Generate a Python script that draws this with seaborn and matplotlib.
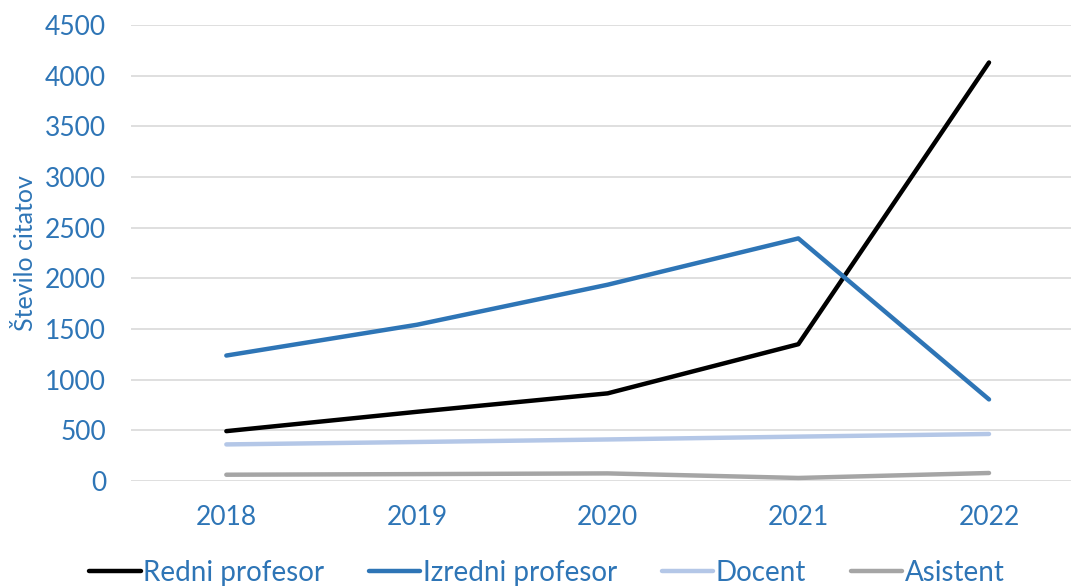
import pandas as pd
import matplotlib.pyplot as plt
import seaborn as sns

leta = ['2018', '2019', '2020', '2021', '2022']
redni = [492, 683, 865, 1350, 4130]
izredni = [1238, 1542, 1937, 2394, 805]
docent = [361, 385, 410, 438, 464]
asistent = [62, 68, 75, 30, 79]

skupine = ['Redni profesor', 'Izredni profesor', 'Docent', 'Asistent']
barve = ['#000000', '#2E75B6', '#B4C7E7', '#A5A5A5']

df = pd.DataFrame({'leto': leta, 'Redni profesor': redni, 'Izredni profesor': izredni,
                   'Docent': docent, 'Asistent': asistent})
df = df.melt(id_vars='leto', var_name='skupina', value_name='citati')

sns.set_style('white')
plt.rcParams['font.family'] = ['Lato', 'DejaVu Sans']
modra = '#2E75B6'

fig = plt.figure(figsize=(10.71, 5.87), dpi=100)
ax = fig.add_axes([131 / 1071, 1 - 481 / 587, 940 / 1071, 456 / 587])

sns.lineplot(data=df, x='leto', y='citati', hue='skupina', hue_order=skupine,
             palette=barve, linewidth=3.2, sort=False, ax=ax)

ax.set_ylim(0, 4500)
ax.set_xlim(-0.5, 4.43)
ax.set_yticks(range(0, 4501, 500))
ax.yaxis.grid(True, color='#D9D9D9', linewidth=1.2)
ax.set_axisbelow(True)
for s in ax.spines.values():
    s.set_visible(False)
ax.tick_params(axis='both', colors=modra, labelsize=19, length=0)
ax.tick_params(axis='y', pad=18)
ax.tick_params(axis='x', pad=17)
ax.set_xlabel('')
ax.set_ylabel('Število citatov', color=modra, fontsize=18, labelpad=6)

ax.legend(loc='center', bbox_to_anchor=(547 / 1071, 14 / 587), bbox_transform=fig.transFigure,
          ncol=4, frameon=False, fontsize=20, handlelength=1.85, handletextpad=0.1,
          columnspacing=1.6, labelcolor=modra)

fig.savefig('out.png', dpi=100)
